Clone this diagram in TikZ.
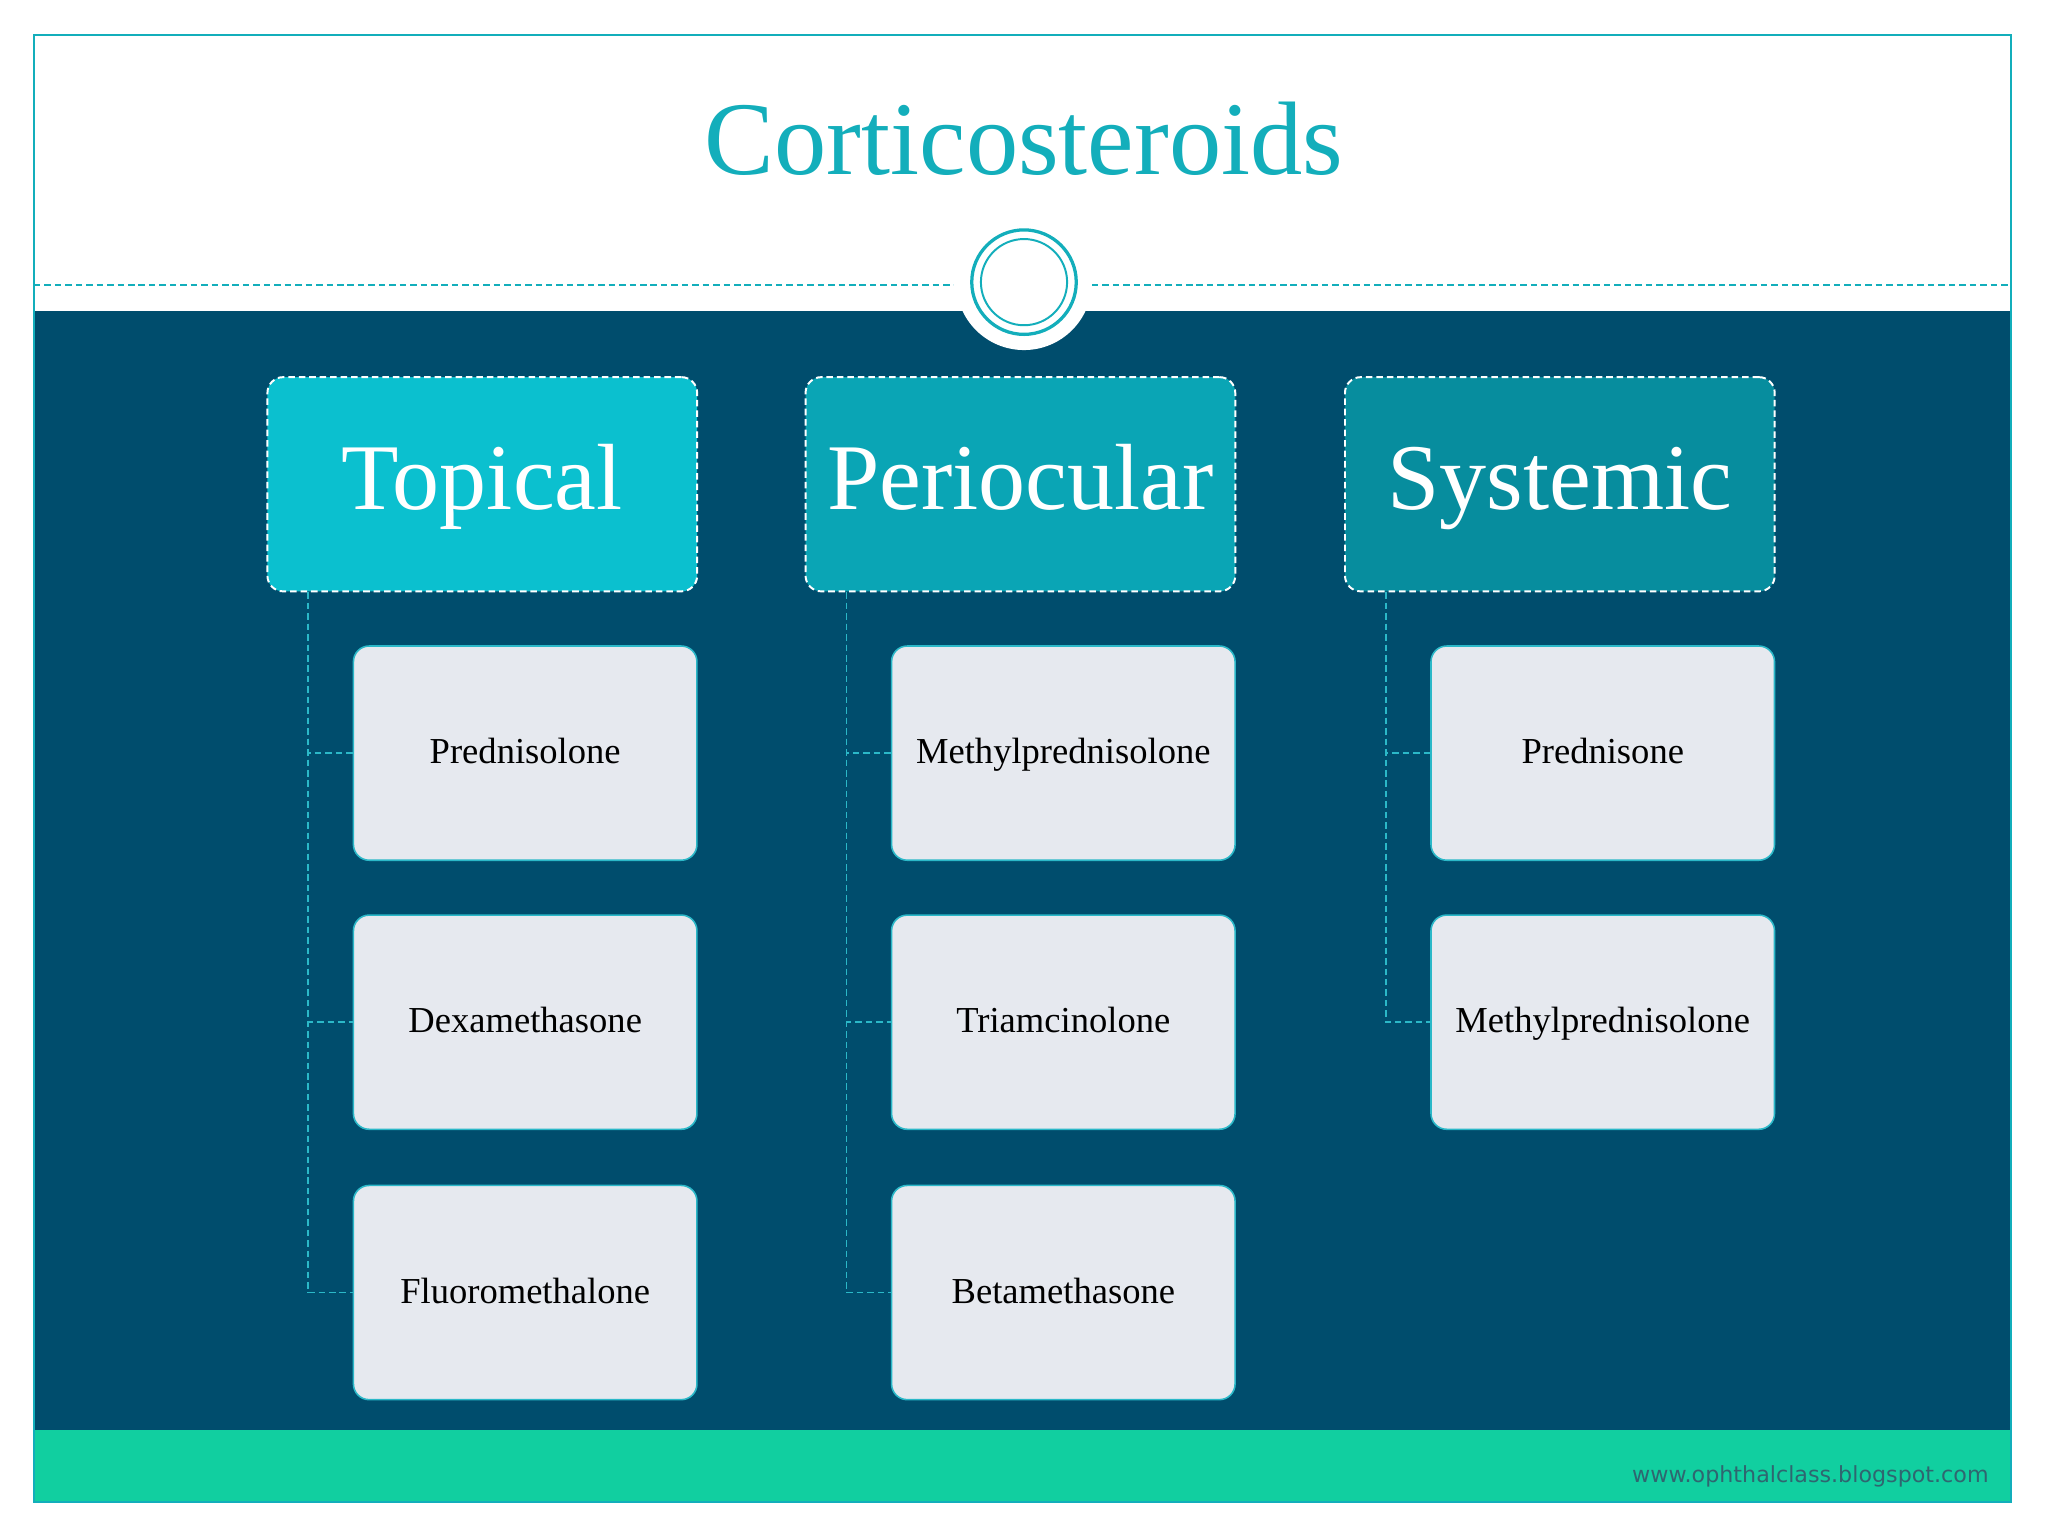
\documentclass[tikz,border=0pt]{standalone}
\usepackage{fontspec}
\setmainfont{Liberation Serif}
\newfontfamily\footfont{DejaVu Sans}
\definecolor{navy}{HTML}{004D6D}
\definecolor{tealA}{HTML}{13AEBB}
\definecolor{hA}{HTML}{0BC0CF}
\definecolor{hB}{HTML}{0AA5B5}
\definecolor{hC}{HTML}{078D9E}
\definecolor{child}{HTML}{E6E9EF}
\definecolor{band}{HTML}{11CFA0}
\definecolor{conn}{HTML}{2BB8C8}
\definecolor{foot}{HTML}{2F6670}
\begin{document}
\begin{tikzpicture}[x=1pt,y=-1pt,
  head/.style={draw=white,dash pattern=on 5pt off 3pt,line width=1.5pt,rounded corners=12pt,minimum width=329pt,minimum height=164pt,text=white,font=\fontsize{72}{74}\selectfont,anchor=north west,text height=50pt,text depth=12pt},
  kid/.style={draw=conn,line width=1.2pt,fill=child,rounded corners=12pt,minimum width=263pt,minimum height=164pt,font=\fontsize{28}{30}\selectfont,anchor=north west,text height=19pt,text depth=3pt},
  link/.style={draw=conn,dash pattern=on 5pt off 3pt,line width=1.2pt}]
\fill[white] (0,0) rectangle (1568,1176);
\useasboundingbox (0,0) rectangle (1568,1176);
\fill[navy] (26,238) rectangle (1540,1095);
\fill[band] (26,1095) rectangle (1540,1150);
\draw[tealA,line width=1.5pt] (26,27) rectangle (1540,1150);
\draw[tealA,dash pattern=on 5pt off 3pt,line width=1.3pt] (26,218) -- (730,218) (836,218) -- (1540,218);
\fill[white] (784,216) circle (52);
\draw[tealA,line width=2.5pt] (784,216) circle (40);
\draw[tealA,line width=1.5pt] (784,216) circle (33);
\node[text=tealA,font=\fontsize{80}{82}\selectfont] (title) at (784,106) {Corticosteroids};
\node[head,fill=hA] (t) at (204,288) {Topical};
\node[head,fill=hB] (p) at (616,288) {Periocular};
\node[head,fill=hC] (s) at (1029,288) {Systemic};
\node[kid] (t1) at (270,494) {Prednisolone};
\node[kid] (t2) at (270,700) {Dexamethasone};
\node[kid] (t3) at (270,907) {Fluoromethalone};
\node[kid] (p1) at (682,494) {Methylprednisolone};
\node[kid] (p2) at (682,700) {Triamcinolone};
\node[kid] (p3) at (682,907) {Betamethasone};
\node[kid] (s1) at (1095,494) {Prednisone};
\node[kid] (s2) at (1095,700) {Methylprednisolone};
\foreach \h/\k in {t/t1,t/t2,t/t3,p/p1,p/p2,p/p3,s/s1,s/s2}{
  \draw[link] ([xshift=32pt]\h.south west) |- (\k.west);
}
\node[text=foot,font=\footfont\fontsize{17}{19}\selectfont,anchor=east] (url) at (1526,1130) {www.ophthalclass.blogspot.com};
\end{tikzpicture}
\end{document}
